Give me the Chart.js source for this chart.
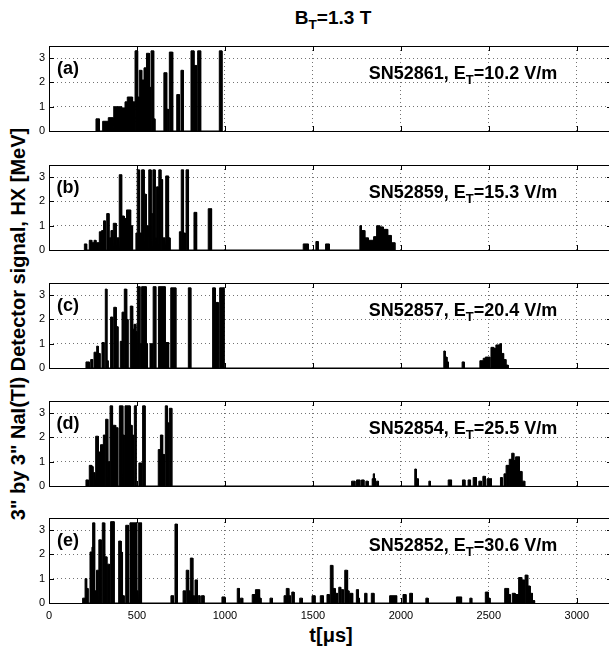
<!DOCTYPE html>
<html>
<head>
<meta charset="utf-8">
<script src="https://cdn.jsdelivr.net/npm/chart.js@4.4.1/dist/chart.umd.min.js"></script>
<style>
  body { margin: 0; width: 609px; height: 649px; overflow: hidden; background: #fff; position: relative;
         font-family: "Liberation Sans", Arial, Helvetica, sans-serif; }
  canvas { position: absolute; left: 0; }
  .txt { position: absolute; font-weight: bold; white-space: nowrap; color: #000; line-height: 1;
         transform: translate(-50%, -50%); }
  .sub { font-size: 0.72em; position: relative; top: 0.38em; }
</style>
</head>
<body>
<div class="txt" style="left:333px; top:17px; font-size:19px;">B<span class="sub">T</span>=1.3 T</div>
<div class="txt" style="left:18px; top:324px; font-size:20px; transform:translate(-50%,-50%) rotate(-90deg);">3" by 3" NaI(Tl) Detector signal, HX [MeV]</div>
<div class="txt" style="left:331px; top:635px; font-size:20px;">t[&mu;s]</div>
<script>
// time axis [µs] and signal axis [MeV]
const xTicks = [0, 500, 1000, 1500, 2000, 2500, 3000];
const yTicks = [0, 1, 2, 3];
const T_MAX = 3200;
const HX_MAX = 3.5;

const panelTags = ['(a)', '(b)', '(c)', '(d)', '(e)'];
const shotNums = ['SN52861', 'SN52859', 'SN52857', 'SN52854', 'SN52852'];
const fieldET = ['10.2', '15.3', '20.4', '25.5', '30.6'];

// bursts: [t start, t end, HX level]
const burstsA = [
  [267, 286, 0.5], [305, 337, 0.4], [337, 366, 0.55], [369, 413, 1.0], [413, 432, 0.95],
  [432, 445, 1.2], [445, 475, 1.4], [475, 487, 1.2], [489, 502, 3.3], [505, 513, 1.4],
  [513, 527, 2.5], [527, 540, 2.1], [540, 552, 2.6], [555, 570, 3.2], [572, 578, 1.8],
  [580, 595, 3.3], [595, 602, 0.5], [653, 669, 2.4], [672, 678, 0.9], [684, 703, 3.25],
  [726, 741, 1.5], [750, 763, 2.5], [807, 824, 3.3], [827, 839, 2.7], [845, 862, 3.3],
  [968, 983, 3.3]
];
const burstsB = [
  [201, 214, 0.25], [229, 243, 0.4], [243, 256, 0.3], [256, 267, 0.4], [270, 284, 0.3],
  [286, 299, 0.75], [299, 310, 0.8], [310, 320, 1.2], [328, 341, 1.5], [343, 352, 0.5],
  [352, 364, 0.8], [366, 381, 1.1], [383, 398, 0.5], [400, 413, 3.1], [415, 428, 1.4],
  [428, 440, 1.3], [441, 464, 1.65], [464, 475, 1.0], [494, 501, 0.7], [502, 514, 3.3],
  [516, 525, 0.7], [527, 540, 3.3], [542, 552, 2.3], [554, 565, 1.0], [568, 580, 3.3],
  [581, 589, 1.5], [591, 603, 3.3], [604, 610, 0.5], [612, 622, 2.6], [625, 636, 3.3],
  [637, 645, 2.9], [646, 660, 0.5], [665, 679, 3.05], [680, 688, 0.5], [741, 751, 0.75],
  [752, 764, 3.3], [765, 776, 0.7], [779, 793, 3.3], [824, 839, 1.55], [905, 924, 1.7],
  [1445, 1474, 0.25], [1517, 1530, 0.35], [1572, 1593, 0.25], [1767, 1776, 1.0],
  [1776, 1795, 0.8], [1795, 1815, 0.5], [1815, 1845, 0.4], [1845, 1862, 0.55],
  [1862, 1880, 1.0], [1880, 1900, 0.95], [1900, 1925, 0.85], [1925, 1945, 0.6],
  [1945, 1966, 0.3]
];
const burstsC = [
  [210, 229, 0.25], [237, 248, 0.35], [256, 271, 0.65], [271, 280, 0.9], [280, 290, 0.6],
  [301, 313, 1.05], [320, 329, 3.25], [331, 336, 0.3], [350, 362, 2.1], [368, 381, 2.5],
  [383, 392, 1.7], [405, 413, 1.1], [415, 426, 2.3], [428, 441, 3.25], [442, 449, 2.0],
  [462, 475, 2.55], [476, 483, 1.6], [483, 494, 1.8], [494, 501, 1.5], [503, 517, 3.35],
  [518, 525, 1.0], [527, 552, 3.35], [553, 560, 1.0], [574, 590, 1.0], [592, 607, 3.35],
  [622, 660, 3.35], [661, 680, 1.05], [692, 721, 3.3], [792, 806, 3.3], [930, 944, 3.3],
  [947, 962, 2.7], [970, 995, 3.3],
  [2244, 2252, 0.7], [2252, 2262, 0.45], [2262, 2270, 0.25], [2348, 2360, 0.25],
  [2449, 2468, 0.3], [2468, 2480, 0.4], [2480, 2506, 0.45], [2512, 2528, 0.85],
  [2528, 2540, 0.8], [2540, 2562, 0.95], [2562, 2572, 1.0], [2572, 2584, 0.6],
  [2584, 2597, 0.35], [2597, 2610, 0.12]
];
const burstsD = [
  [210, 224, 0.25], [229, 243, 0.85], [243, 250, 0.8], [252, 262, 0.55], [267, 280, 2.05],
  [282, 290, 1.4], [294, 309, 1.7], [309, 318, 2.1], [322, 333, 2.75], [335, 344, 1.0],
  [347, 360, 3.3], [362, 378, 2.5], [380, 391, 2.4], [400, 419, 3.3], [420, 428, 2.1],
  [432, 461, 3.3], [463, 472, 2.5], [472, 481, 2.1], [485, 495, 3.3], [511, 527, 0.95],
  [532, 546, 3.3], [621, 632, 1.5], [634, 646, 2.1], [648, 656, 1.3], [661, 672, 3.3],
  [673, 681, 2.6], [684, 698, 3.2],
  [1720, 1739, 0.2], [1748, 1767, 0.25], [1776, 1790, 0.25], [1801, 1814, 0.2],
  [1837, 1843, 0.3], [1843, 1850, 0.5], [1850, 1856, 0.3], [1862, 1873, 0.2],
  [2079, 2088, 0.7], [2088, 2098, 0.3], [2098, 2103, 0.15], [2159, 2168, 0.2],
  [2269, 2288, 0.25], [2350, 2364, 0.25], [2382, 2396, 0.25], [2411, 2430, 0.35],
  [2443, 2458, 0.2], [2466, 2480, 0.4], [2490, 2515, 0.3], [2566, 2576, 0.35],
  [2586, 2596, 0.5], [2598, 2614, 0.85], [2616, 2630, 1.1], [2630, 2642, 1.35],
  [2642, 2652, 1.05], [2652, 2674, 1.2], [2674, 2688, 0.6], [2688, 2704, 0.2]
];
const burstsE = [
  [191, 205, 0.2], [205, 214, 1.0], [214, 222, 0.6], [233, 244, 2.1], [244, 248, 2.3],
  [248, 259, 3.3], [260, 268, 0.5], [271, 282, 1.35], [284, 297, 2.6], [303, 315, 3.3],
  [318, 329, 1.9], [333, 344, 1.6], [350, 370, 3.35], [396, 410, 2.55], [410, 416, 2.1],
  [419, 427, 0.3], [436, 452, 3.2], [460, 498, 3.3], [499, 506, 0.5], [508, 526, 3.3],
  [693, 707, 0.3], [716, 730, 3.25], [762, 776, 0.5], [780, 793, 1.35], [794, 802, 0.5],
  [804, 817, 1.85], [818, 826, 0.3], [830, 844, 0.95], [848, 858, 0.3], [866, 881, 0.3],
  [983, 1000, 0.25], [1070, 1082, 0.6], [1088, 1101, 0.2], [1155, 1172, 0.35],
  [1174, 1196, 0.55], [1198, 1205, 0.2], [1256, 1270, 0.2], [1336, 1348, 0.3],
  [1349, 1362, 0.6], [1364, 1372, 0.3], [1380, 1393, 0.45], [1425, 1440, 0.2],
  [1495, 1512, 0.3], [1542, 1559, 0.3], [1580, 1593, 0.35], [1599, 1612, 1.55],
  [1614, 1626, 0.6], [1628, 1640, 0.4], [1647, 1658, 0.65], [1661, 1673, 0.55],
  [1681, 1696, 1.35], [1698, 1705, 0.5], [1709, 1726, 0.4], [1747, 1758, 0.55],
  [1759, 1765, 0.2], [1794, 1806, 0.4], [1832, 1847, 0.4], [1936, 1976, 0.3],
  [2012, 2029, 0.35], [2050, 2065, 0.4], [2142, 2155, 0.2], [2316, 2345, 0.25],
  [2392, 2403, 0.2], [2480, 2497, 0.45], [2497, 2507, 0.2], [2590, 2611, 0.6],
  [2613, 2622, 0.35], [2633, 2649, 0.4], [2650, 2668, 0.35], [2670, 2687, 1.05],
  [2687, 2703, 0.95], [2706, 2721, 1.15], [2721, 2735, 0.7], [2735, 2748, 0.4],
  [2748, 2760, 0.1]
];
const allBursts = [burstsA, burstsB, burstsC, burstsD, burstsE];

// page layout
const panelTop = [46, 165, 283, 401, 518];
const PANEL_H = 85;
const PAD = 12;
const CANVAS_W = 620;
const PLOT_LEFT = 49;
const PLOT_RIGHT = 612;
const FONT = '"Liberation Sans", Arial, Helvetica, sans-serif';

// turn bursts into a trace that drops back to zero between them
function toTrace(bursts) {
  const pts = [];
  bursts.forEach(([t0, t1, v]) => {
    pts.push({ x: t0, y: 0 }, { x: t0, y: v }, { x: t1, y: v }, { x: t1, y: 0 });
  });
  return pts;
}

// full box + inward ticks, matlab style
const framePlugin = {
  id: 'frame',
  afterDatasetsDraw(chart) {
    const { ctx, chartArea: { left, top, right, bottom }, scales: { x, y } } = chart;
    ctx.save();
    ctx.strokeStyle = '#000';
    ctx.lineWidth = 1;
    ctx.strokeRect(left + 0.5, top + 0.5, right - left, bottom - top);
    ctx.beginPath();
    x.ticks.forEach((t) => {
      const px = Math.round(x.getPixelForValue(t.value)) + 0.5;
      ctx.moveTo(px, bottom); ctx.lineTo(px, bottom - 5);
      ctx.moveTo(px, top); ctx.lineTo(px, top + 5);
    });
    y.ticks.forEach((t) => {
      const py = Math.round(y.getPixelForValue(t.value)) + 0.5;
      ctx.moveTo(left, py); ctx.lineTo(left + 5, py);
      ctx.moveTo(right, py); ctx.lineTo(right - 5, py);
    });
    ctx.stroke();
    ctx.restore();
  },
};

function addText(html, cx, cy, size) {
  const d = document.createElement('div');
  d.className = 'txt';
  d.style.left = cx + 'px';
  d.style.top = cy + 'px';
  d.style.fontSize = size + 'px';
  d.innerHTML = html;
  document.body.appendChild(d);
}

allBursts.forEach((bursts, i) => {
  const last = i === allBursts.length - 1;
  const extra = last ? 26 : 0;
  const cv = document.createElement('canvas');
  cv.width = CANVAS_W;
  cv.height = PANEL_H + 2 * PAD + extra;
  cv.style.top = (panelTop[i] - PAD) + 'px';
  document.body.appendChild(cv);

  new Chart(cv.getContext('2d'), {
    type: 'line',
    plugins: [framePlugin],
    data: {
      datasets: [{
        data: toTrace(bursts),
        borderColor: '#000',
        backgroundColor: '#000',
        borderWidth: 1,
        pointRadius: 0,
        tension: 0,
        fill: 'origin',
      }],
    },
    options: {
      responsive: false,
      animation: false,
      devicePixelRatio: 1,
      layout: { padding: { top: PAD, bottom: last ? PAD + extra - 22 : PAD, left: 0, right: CANVAS_W - PLOT_RIGHT } },
      plugins: { legend: { display: false }, tooltip: { enabled: false } },
      scales: {
        x: {
          type: 'linear',
          min: 0, max: T_MAX,
          afterBuildTicks: (s) => { s.ticks = xTicks.map((v) => ({ value: v })); },
          afterFit: (s) => { s.height = last ? 22 : 0; },
          grid: { color: 'rgba(0,0,0,0.55)', drawTicks: false },
          border: { display: false, dash: [1, 3] },
          ticks: {
            display: last, color: '#000', padding: 6, maxRotation: 0,
            font: { size: 11, family: FONT },
            callback: (v) => String(v),
          },
        },
        y: {
          min: 0, max: HX_MAX,
          afterBuildTicks: (s) => { s.ticks = yTicks.map((v) => ({ value: v })); },
          afterFit: (s) => { s.width = PLOT_LEFT; },
          grid: { color: 'rgba(0,0,0,0.55)', drawTicks: false },
          border: { display: false, dash: [1, 3] },
          ticks: { color: '#000', padding: 4, font: { size: 11, family: FONT }, callback: (v) => String(v) },
        },
      },
    },
  });

  addText(panelTags[i], 68, panelTop[i] + 22, 18);
  addText(shotNums[i] + ', E<span class="sub">T</span>=' + fieldET[i] + ' V/m', 463, panelTop[i] + 27, 18);
});
</script>
</body>
</html>
